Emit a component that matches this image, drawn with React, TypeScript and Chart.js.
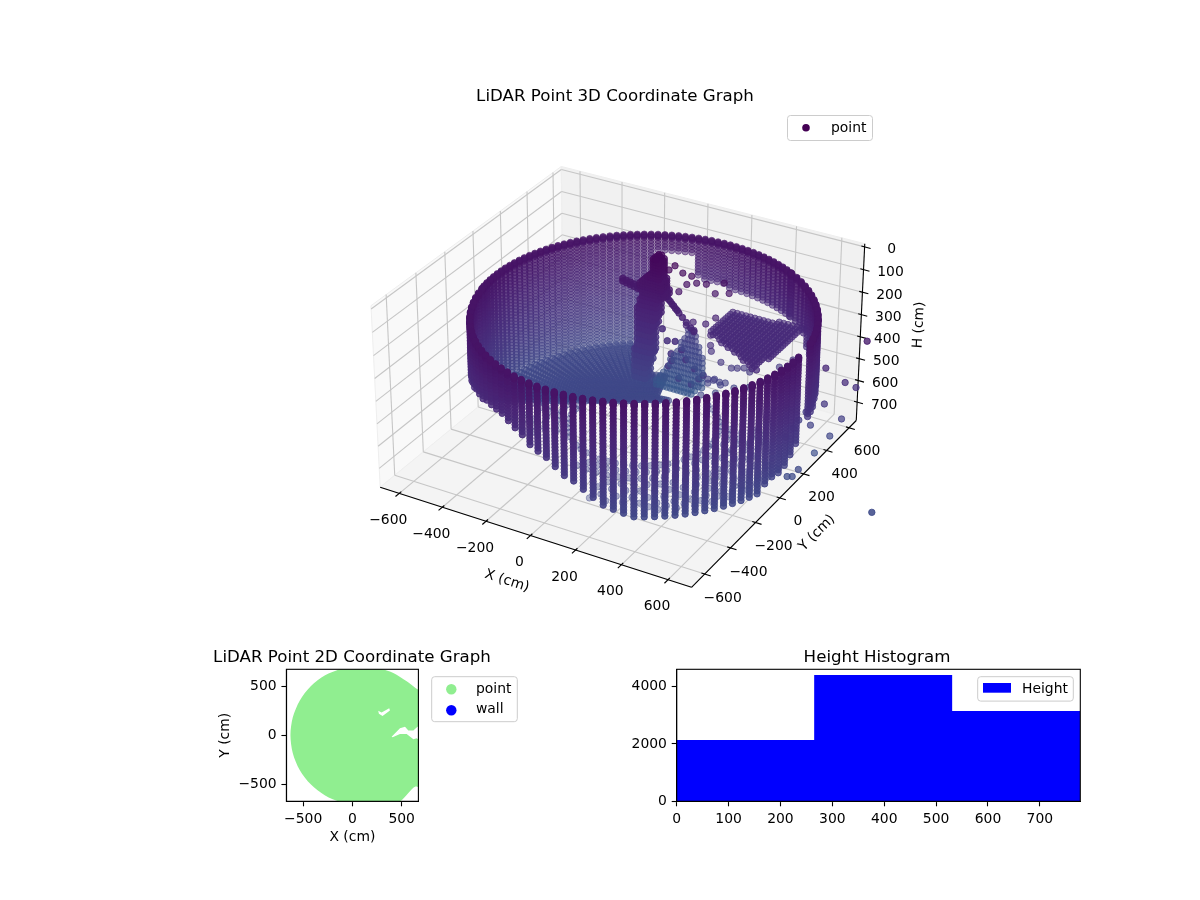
import { useEffect, useRef } from "react"
import { Chart, registerables } from "chart.js"

Chart.register(...registerables)
Chart.defaults.font.family = "'DejaVu Sans', sans-serif"
Chart.defaults.color = "#000"

// ---- axis ranges and ticks
const xLimits = [-690, 700]
const yLimits = [-700, 665]
const hLimits = [-14, 786]
const xTicks3d = [-600, -400, -200, 0, 200, 400, 600]
const yTicks3d = [-600, -400, -200, 0, 200, 400, 600]
const hTicks3d = [0, 100, 200, 300, 400, 500, 600, 700]
const ticks2d = [-500, 0, 500]
const histXTicks = [0, 100, 200, 300, 400, 500, 600, 700]
const histYTicks = [0, 2000, 4000]

// ---- room wall, one column per azimuth (deg); wallBottom is the lowest H seen, 0 = no return
const wallCenter = [75, 25]
const wallRadius = 672
const wallAzimuth = [
  0, 3.3, 6.6, 9.9, 13.2, 16.5, 19.8, 23.1, 26.4, 29.7,
  33, 36.3, 39.6, 42.9, 46.2, 49.5, 52.8, 56.1, 59.4,
  60, 62.4, 64.8, 67.2, 69.6, 72, 74.4, 76.8, 79.2, 81.6, 84, 86.4, 88.8,
  91.2, 93.6, 96, 98.4, 100.8,
  103.2, 105.6, 108, 110.4, 112.8, 115.2,
  117.6, 120, 122.4, 124.8, 127.2, 129.6, 132, 134.4, 136.8, 139.2, 141.6, 144, 146.4, 148.8, 151.2, 153.6,
  156, 158.4, 160.8, 163.2, 165.6, 168, 170.4, 172.8, 175.2, 177.6, 180, 182.4, 184.8, 187.2, 189.6,
  191.4, 194.7,
  198, 201.3, 204.6, 207.9, 211.2, 214.5, 217.8, 221.1, 224.4, 227.7,
  231, 234.3, 237.6, 240.9, 244.2, 247.5, 250.8, 254.1, 257.4, 260.7,
  264, 267.3, 270.6, 273.9, 277.2, 280.5, 283.8, 287.1, 290.4, 293.7,
  297, 300.3, 303.6, 306.9, 310.2, 313.5, 316.8, 320.1, 323.4, 326.7,
  330, 333.3, 336.6, 339.9, 343.2, 346.5, 349.8, 353.1, 356.4,
]
const wallBottom = [
  548, 0, 0, 488, 488, 488, 478, 478, 468, 468,
  458, 458, 448, 438, 418, 378, 368, 363, 363,
  363, 363, 363, 363, 363, 363, 363, 363, 363, 363, 363, 363, 358,
  345, 345, 345, 345, 340,
  233, 233, 233, 233, 233, 233,
  658, 658, 658, 658, 658, 658, 658, 658, 658, 658, 658, 658, 658, 658, 658, 658,
  658, 658, 658, 658, 658, 658, 658, 658, 658, 658, 658, 658, 658, 658, 658,
  618, 558,
  508, 468, 418, 418, 418, 413, 408, 398, 388, 383,
  378, 373, 368, 368, 368, 368, 378, 398, 413, 428,
  443, 468, 493, 518, 538, 563, 593, 618, 633, 648,
  658, 663, 663, 663, 663, 663, 663, 663, 663, 663,
  663, 663, 663, 663, 633, 623, 613, 598, 573,
]
const wallRings = [
  162, 165, 168, 172, 176, 190, 204, 218, 232, 246, 260, 274, 288, 302, 316, 330, 344, 358, 372, 386, 400, 414,
  428, 442, 456, 470, 484, 498, 512, 526, 540, 554, 568, 582, 596, 610, 624, 638, 652, 666,
]

// ---- floor rings; past floorNearLimit (view depth) only thin returns remain
const floorHeight = 660
const floorNearLimit = 190
const floorAzimuth = [
  0, 2.5, 5, 7.5, 10, 12.5, 15, 17.5, 20, 22.5, 25, 27.5, 30, 32.5, 35, 37.5, 40, 42.5, 45, 47.5, 50, 52.5, 55, 57.5,
  60, 62.5, 65, 67.5, 70, 72.5, 75, 77.5, 80, 82.5, 85, 87.5, 90, 92.5, 95, 97.5, 100, 102.5, 105, 107.5, 110, 112.5, 115, 117.5,
  120, 122.5, 125, 127.5, 130, 132.5, 135, 137.5, 140, 142.5, 145, 147.5, 150, 152.5, 155, 157.5, 160, 162.5, 165, 167.5, 170, 172.5, 175, 177.5,
  180, 182.5, 185, 187.5, 190, 192.5, 195, 197.5, 200, 202.5, 205, 207.5, 210, 212.5, 215, 217.5, 220, 222.5, 225, 227.5, 230, 232.5, 235, 237.5,
  240, 242.5, 245, 247.5, 250, 252.5, 255, 257.5, 260, 262.5, 265, 267.5, 270, 272.5, 275, 277.5, 280, 282.5, 285, 287.5, 290, 292.5, 295, 297.5,
  300, 302.5, 305, 307.5, 310, 312.5, 315, 317.5, 320, 322.5, 325, 327.5, 330, 332.5, 335, 337.5, 340, 342.5, 345, 347.5, 350, 352.5, 355, 357.5,
]
const floorRadii = [
  188, 202, 216, 230, 244, 258, 272, 286, 300, 314, 328, 342, 356, 370, 384, 398, 412, 426, 440, 454, 468, 482, 496, 510, 524, 538,
  552, 566, 580, 594, 608, 622, 636, 650, 660,
]
const floorSectorEnd = [25, 60, 105, 118, 190, 215, 255, 275, 300, 360]
const floorSectorReach = [500, 300, 220, 400, 660, 500, 340, 430, 570, 620]
const sparseRadiiEven = [300, 390, 480, 565, 612]
const sparseRadiiOdd = [345, 435, 525, 590]

// ---- flat deck by the back-right wall
const deckHeight = 368
const deckColumns = [190, 210, 230, 250, 270, 290, 310, 330, 350, 370, 390, 410, 430, 450, 470, 490, 510]
const deckRowY = [560, 540, 520, 500, 480, 460, 440, 420, 400, 380, 360, 340, 320, 300, 280, 260, 240, 220, 200, 180]
const deckRowFrom = [385, 185, 185, 185, 185, 185, 185, 185, 185, 185, 185, 197, 232, 267, 302, 337, 372, 407, 442, 470]
const deckRowTo = [510, 508, 507, 505, 504, 503, 502, 500, 499, 497, 496, 495, 493, 492, 490, 489, 488, 487, 486, 490]

// ---- cone shaped return beside the figure
const coneY = 300
const coneColumns = [-40, -24, -8, 8, 24, 40, 56, 72, 88, 104, 120, 136, 152, 168, 184, 200]
const coneH = [350, 372, 395, 417, 440, 462, 485, 507, 530, 552, 575, 597, 620, 640]
const coneFrom = [118, 105, 98, 88, 78, 66, 55, 40, 25, 10, -3, -20, -35, -30]
const coneTo = [140, 155, 165, 172, 180, 185, 189, 192, 194, 196, 198, 185, 167, 150]

// ---- standing figure
const figureLayers = [275, 290, 305, 320]
const figureColumns = [-124, -112, -100, -88, -76, -64, -52, -40, -28, -16, -4, 8, 20]
const figureH = [64, 76, 88, 100, 112, 124, 136, 148, 160, 172, 184, 196, 208, 223, 238, 258, 278, 298, 318, 338, 363, 388, 413, 438, 463, 488, 513, 538, 563, 588, 613]
const figureFrom = [-30, -33, -33, -33, -33, -36, -40, -55, -70, -85, -90, -90, -88, -85, -85, -90, -95, -100, -100, -102, -105, -108, -108, -108, -110, -112, -115, -115, -118, -120, -120]
const figureTo = [-5, 0, 3, 3, 3, 0, 0, 5, 10, 15, 15, 18, 20, 20, 5, -5, -8, -12, -15, -20, -25, -30, -35, -40, -40, -40, -45, -50, -55, -60, -60]

// ---- loose returns; the first darkCount belong to the figure
const darkCount = 40
const strayX = [
  -182, -165, -147, -130, -112, -93, -182, -165, -147, -130, -112, -93,
  -4, 12, 28, 44, 60, 76, 92, 110, 130, 145, 20, 36, 52, 68,
  -34, 42, 46, 24, 1, 78, 136, 190, 60, 90, 30, 110, 150, 170,
  218, 265, 154, 187, 248, 121, 137, 107, 80, 60, 94, 221, 187, 144, 121, 147, 205, 205, 208, 242, 278, 299, 322, 342,
  218, 198, 242, 289, 342, 383, 444, 490, 558, 198, 221, 238, 258, 225, 174,
  869, 735, 802, 839, 735, 795, 758, 708, 691, 634, 610, 651, 674, 691, 744, 724, 707, 1120,
]
const strayY = [
  300, 300, 300, 300, 300, 300, 300, 300, 300, 300, 300, 300,
  300, 300, 300, 300, 300, 300, 300, 300, 300, 300, 300, 300, 300, 300,
  300, 300, 300, 300, 300, 300, 300, 300, 300, 300, 300, 300, 300, 300,
  336, 364, 300, 319, 354, 280, 290, 272, 257, 245, 265, 338, 319, 294, 280, 296, 329, 329, 331, 350, 372, 383, 397, 408,
  336, 325, 350, 377, 408, 432, 467, 494, 533, 325, 338, 348, 360, 340, 312,
  366, 289, 327, 349, 289, 324, 302, 273, 263, 230, 217, 240, 254, 263, 63, 52, 42, -60,
]
const strayH = [
  201, 205, 208, 212, 216, 220, 213, 217, 220, 224, 228, 232,
  206, 223, 240, 256, 272, 288, 303, 321, 340, 353, 230, 246, 262, 278,
  489, 481, 512, 427, 379, 584, 594, 538, 420, 450, 540, 490, 520, 560,
  180, 180, 134, 139, 134, 139, 103, 89, 57, 75, 171, 289, 316, 307, 321, 344, 366, 412, 439, 489, 516, 516, 516, 534,
  571, 584, 593, 607, 603, 580, 512, 480, 580, 566, 566, 580, 584, 630, 639,
  227, 345, 409, 432, 505, 573, 650, 727, 600, 614, 655, 577, 541, 495, 678, 710, 710, 685,
]

// ---- 2D footprint
const footprintX = [75, 200, 296, 415, 551, 640, 720, 720, 640, 568, 483, 360, 220, 75, -107, -277, -423, -535, -605, -629, -605, -535, -423, -277, -107]
const footprintY = [704, 692, 673, 633, 548, 480, 420, -540, -520, -585, -670, -690, -700, -704, -680, -610, -498, -352, -182, 0, 182, 352, 498, 610, 680]
const gapAX = [262, 296, 374, 381, 306, 269]
const gapAY = [248, 231, 275, 252, 197, 218]
const gapBX = [398, 483, 534, 568, 619, 660, 720, 720, 653, 619, 551, 483, 408]
const gapBY = [-14, 71, 88, 48, 48, 88, 88, -70, -31, -41, 14, 14, -20]

// ---- histogram
const histEdges = [0, 265, 531, 778]
const histCounts = [2140, 4407, 3151]

// ---- view of the 3D box: elev 30, azim -60, camera distance 10
const boxSide = 1.243
const boxHeight = 0.73
const camDist = 10
const viewRight = [0.866, 0.5, 0]
const viewUp = [-0.25, 0.433, 0.866]
const viewNormal = [0.433, -0.75, 0.5]

type P3 = { u: number; v: number; d: number }

function project(x: number, y: number, h: number): P3 {
  const bx = ((x - xLimits[0]) / (xLimits[1] - xLimits[0]) - 0.5) * boxSide
  const by = ((y - yLimits[0]) / (yLimits[1] - yLimits[0]) - 0.5) * boxSide
  const bz = (0.5 - (h - hLimits[0]) / (hLimits[1] - hLimits[0])) * boxHeight
  const X = viewRight[0] * bx + viewRight[1] * by
  const Y = viewUp[0] * bx + viewUp[1] * by + viewUp[2] * bz
  const d = viewNormal[0] * bx + viewNormal[1] * by + viewNormal[2] * bz
  const w = camDist - d
  return { u: X / w, v: Y / w, d }
}

const viridis = [
  [68, 1, 84], [71, 19, 101], [72, 36, 117], [70, 52, 128], [65, 68, 135], [59, 82, 139], [53, 95, 141],
]

function heightColor(h: number, alpha: number) {
  const t = Math.max(0, Math.min(0.29, h / 3100)) / 0.05
  const i = Math.floor(t)
  const f = t - i
  const a = viridis[i]
  const b = viridis[i + 1]
  const c = [0, 1, 2].map((k) => Math.round(a[k] + (b[k] - a[k]) * f))
  return `rgba(${c[0]},${c[1]},${c[2]},${alpha.toFixed(3)})`
}

function collectCloud() {
  // x, y, H, forced alpha (0 = depth shade), H used for the colour
  const raw: number[][] = []
  const polar = (az: number, r: number) => {
    const a = (az * Math.PI) / 180
    return [wallCenter[0] + r * Math.cos(a), wallCenter[1] + r * Math.sin(a)]
  }
  const viewDepth = (az: number, r: number) => r * Math.cos(((az - 120) * Math.PI) / 180)
  const reachAt = (az: number) => floorSectorReach[floorSectorEnd.findIndex((e) => az <= e)]

  wallAzimuth.forEach((az, i) => {
    wallRings.forEach((h) => {
      if (h <= wallBottom[i]) {
        const p = polar(az, wallRadius)
        raw.push([p[0], p[1], h, 0, h])
      }
    })
    const sparse = i % 2 ? sparseRadiiOdd : sparseRadiiEven
    sparse.forEach((r) => {
      if (r <= reachAt(az) && viewDepth(az, r) < floorNearLimit) {
        const p = polar(az + 1.6, r)
        raw.push([p[0], p[1], floorHeight, 0.38, floorHeight])
      }
    })
  })
  floorAzimuth.forEach((az) => {
    floorRadii.forEach((r) => {
      if (r <= reachAt(az) && viewDepth(az, r) >= floorNearLimit) {
        const p = polar(az, r)
        raw.push([p[0], p[1], floorHeight, 0, floorHeight])
      }
    })
  })
  deckRowY.forEach((y, i) => {
    deckColumns.forEach((x) => {
      if (x >= deckRowFrom[i] && x <= deckRowTo[i]) raw.push([x, y, deckHeight, 0, deckHeight])
    })
  })
  coneH.forEach((h, i) => {
    coneColumns.forEach((x) => {
      if (x >= coneFrom[i] && x <= coneTo[i]) raw.push([x, coneY, h, 0.6, h + 200])
    })
  })
  figureLayers.forEach((y) => {
    figureH.forEach((h, i) => {
      figureColumns.forEach((x) => {
        if (x >= figureFrom[i] && x <= figureTo[i]) raw.push([x, y, h, 0.8, h])
      })
    })
  })
  strayX.forEach((x, i) => raw.push([x, strayY[i], strayH[i], i < darkCount ? 0.85 : 0, strayH[i]]))

  const pts = raw.map((p) => ({ ...project(p[0], p[1], p[2]), forced: p[3], colorH: p[4] }))
  pts.sort((a, b) => a.d - b.d)
  const dMin = pts[0].d
  const dMax = pts[pts.length - 1].d
  return pts.map((p) => ({
    x: p.u,
    y: p.v,
    color: heightColor(p.colorH, p.forced || 0.42 + (0.58 * (p.d - dMin)) / (dMax - dMin)),
  }))
}

const minusText = (v: number) => String(v).replace("-", "\u2212")

function drawLegendBox(ctx: CanvasRenderingContext2D, x: number, y: number, w: number, h: number) {
  ctx.save()
  ctx.beginPath()
  ctx.roundRect(x, y, w, h, 3)
  ctx.fillStyle = "rgba(255,255,255,0.8)"
  ctx.fill()
  ctx.strokeStyle = "#cccccc"
  ctx.lineWidth = 1
  ctx.stroke()
  ctx.restore()
}

function drawText(ctx: CanvasRenderingContext2D, text: string, x: number, y: number, size: number, align: CanvasTextAlign = "center", rot = 0) {
  ctx.save()
  ctx.translate(x, y)
  ctx.rotate((rot * Math.PI) / 180)
  ctx.font = `${size}px 'DejaVu Sans'`
  ctx.fillStyle = "#000"
  ctx.textAlign = align
  ctx.textBaseline = "middle"
  ctx.fillText(text, 0, 0)
  ctx.restore()
}

const scenePlugin = {
  id: "scene3d",
  beforeDatasetsDraw(chart: any) {
    const ctx: CanvasRenderingContext2D = chart.ctx
    const sx = chart.scales.x
    const sy = chart.scales.y
    const at = (x: number, y: number, h: number) => {
      const p = project(x, y, h)
      return [sx.getPixelForValue(p.u), sy.getPixelForValue(p.v)]
    }
    const [x0, x1] = xLimits
    const [y0, y1] = yLimits
    const [hTop, hBase] = hLimits

    const poly = (pts: number[][], fill: string) => {
      ctx.beginPath()
      pts.forEach((p, i) => (i ? ctx.lineTo(p[0], p[1]) : ctx.moveTo(p[0], p[1])))
      ctx.closePath()
      ctx.fillStyle = fill
      ctx.fill()
      ctx.strokeStyle = "#eeeeee"
      ctx.lineWidth = 1
      ctx.stroke()
    }
    const seg = (a: number[], b: number[], color: string, lw: number) => {
      ctx.beginPath()
      ctx.moveTo(a[0], a[1])
      ctx.lineTo(b[0], b[1])
      ctx.strokeStyle = color
      ctx.lineWidth = lw
      ctx.stroke()
    }

    poly([at(x0, y0, hTop), at(x0, y1, hTop), at(x0, y1, hBase), at(x0, y0, hBase)], "#f9f9f9")
    poly([at(x0, y1, hTop), at(x1, y1, hTop), at(x1, y1, hBase), at(x0, y1, hBase)], "#f1f1f1")
    poly([at(x0, y0, hBase), at(x0, y1, hBase), at(x1, y1, hBase), at(x1, y0, hBase)], "#f4f4f4")

    const grid = "#c6c6c6"
    xTicks3d.forEach((t) => {
      seg(at(t, y0, hBase), at(t, y1, hBase), grid, 1.1)
      seg(at(t, y1, hBase), at(t, y1, hTop), grid, 1.1)
    })
    yTicks3d.forEach((t) => {
      seg(at(x1, t, hBase), at(x0, t, hBase), grid, 1.1)
      seg(at(x0, t, hBase), at(x0, t, hTop), grid, 1.1)
    })
    hTicks3d.forEach((t) => {
      seg(at(x0, y0, t), at(x0, y1, t), grid, 1.1)
      seg(at(x0, y1, t), at(x1, y1, t), grid, 1.1)
    })

    seg(at(x0, y0, hBase), at(x1, y0, hBase), "#000", 1.1)
    seg(at(x1, y0, hBase), at(x1, y1, hBase), "#000", 1.1)
    seg(at(x1, y1, hBase), at(x1, y1, hTop), "#000", 1.1)

    xTicks3d.forEach((t) => {
      seg(at(t, y0 - 26, hBase), at(t, y0 + 14, hBase), "#000", 1.1)
      const p = at(t, y0, hBase)
      drawText(ctx, minusText(t), p[0] - 11, p[1] + 27, 13.9)
    })
    yTicks3d.forEach((t) => {
      seg(at(x1 + 26, t, hBase), at(x1 - 14, t, hBase), "#000", 1.1)
      const p = at(x1, t, hBase)
      drawText(ctx, minusText(t), p[0] + 18, p[1] + 24, 13.9)
    })
    hTicks3d.forEach((t) => {
      seg(at(x1 + 26, y1, t), at(x1 - 14, y1, t), "#000", 1.1)
      const p = at(x1, y1, t)
      drawText(ctx, minusText(t), p[0] + 27, p[1] + 3, 13.9)
    })
    drawText(ctx, "X (cm)", 507, 581, 13.9, "center", 17.7)
    drawText(ctx, "Y (cm)", 817, 533, 13.9, "center", -45)
    drawText(ctx, "H (cm)", 919, 325, 13.9, "center", -87)
    drawText(ctx, "LiDAR Point 3D Coordinate Graph", 615, 96.5, 16.67)
  },
  afterDatasetsDraw(chart: any) {
    const ctx: CanvasRenderingContext2D = chart.ctx
    drawLegendBox(ctx, 787.5, 115.5, 85, 25)
    ctx.beginPath()
    ctx.arc(806, 127.7, 3.8, 0, Math.PI * 2)
    ctx.fillStyle = "#440154"
    ctx.fill()
    drawText(ctx, "point", 831, 128, 13.9, "left")
  },
}

const framePlugin = {
  id: "frame",
  afterDatasetsDraw(chart: any, _args: any, opts: any) {
    const ctx: CanvasRenderingContext2D = chart.ctx
    const a = chart.chartArea
    ctx.save()
    ctx.strokeStyle = "#000"
    ctx.lineWidth = 1.1
    ctx.strokeRect(a.left, a.top, a.right - a.left, a.bottom - a.top)
    ctx.restore()
    drawText(ctx, opts.title, opts.titleX, 17.5, 16.67)
    if (opts.kind === "points") {
      drawLegendBox(ctx, 231.7, 36.7, 85.6, 45)
      ctx.fillStyle = "#90ee90"
      ctx.beginPath()
      ctx.arc(251.3, 49.3, 5.2, 0, Math.PI * 2)
      ctx.fill()
      ctx.fillStyle = "#0000ff"
      ctx.beginPath()
      ctx.arc(251.3, 70.3, 5.2, 0, Math.PI * 2)
      ctx.fill()
      drawText(ctx, "point", 276, 49, 13.9, "left")
      drawText(ctx, "wall", 276, 69.5, 13.9, "left")
    } else {
      drawLegendBox(ctx, 357.7, 36.7, 95.6, 24.4)
      ctx.fillStyle = "#0000ff"
      ctx.fillRect(363, 43, 28, 9.7)
      drawText(ctx, "Height", 402, 49, 13.9, "left")
    }
  },
}

function axisStyle(values: number[], min: number, max: number, size: number, horizontal: boolean, title?: string, titlePad?: any) {
  return {
    type: "linear",
    min,
    max,
    afterBuildTicks: (s: any) => {
      s.ticks = values.map((value) => ({ value }))
    },
    afterFit: (s: any) => {
      if (horizontal) s.height = size
      else s.width = size
    },
    grid: { drawOnChartArea: false, tickLength: 5, tickColor: "#000", tickWidth: 1.1 },
    border: { display: true, color: "#000", width: 1.1 },
    ticks: {
      autoSkip: false,
      maxRotation: 0,
      padding: 4.8,
      color: "#000",
      font: { size: 13.9 },
      callback: (v: number) => minusText(v),
    },
    title: title ? { display: true, text: title, color: "#000", font: { size: 13.9 }, padding: titlePad } : { display: false },
  }
}

export default function App() {
  const sceneRef = useRef<HTMLCanvasElement>(null)
  const mapRef = useRef<HTMLCanvasElement>(null)
  const histRef = useRef<HTMLCanvasElement>(null)

  useEffect(() => {
    const cloud = collectCloud()

    const scene = new Chart(sceneRef.current as HTMLCanvasElement, {
      type: "scatter",
      data: {
        datasets: [
          {
            label: "point",
            data: cloud.map((p) => ({ x: p.x, y: p.y })),
            pointRadius: 3.2,
            pointBorderWidth: 1,
            pointBackgroundColor: cloud.map((p) => p.color),
            pointBorderColor: cloud.map((p) => p.color),
            clip: false,
          },
        ],
      },
      options: {
        responsive: false,
        animation: false,
        events: [],
        layout: { padding: 0 },
        plugins: { legend: { display: false }, tooltip: { enabled: false } },
        scales: {
          x: { type: "linear", display: false, min: -0.21647, max: 0.20048 },
          y: { type: "linear", display: false, min: -0.09521, max: 0.12717 },
        },
      },
      plugins: [scenePlugin],
    } as any)

    const toPairs = (xs: number[], ys: number[]) => xs.map((x, i) => ({ x, y: ys[i] }))
    const map = new Chart(mapRef.current as HTMLCanvasElement, {
      type: "scatter",
      data: {
        datasets: [
          { label: "gap a", data: toPairs(gapAX, gapAY), showLine: true, fill: "shape", borderWidth: 0, backgroundColor: "#fff", pointRadius: 0 },
          { label: "gap b", data: toPairs(gapBX, gapBY), showLine: true, fill: "shape", borderWidth: 0, backgroundColor: "#fff", pointRadius: 0 },
          { label: "point", data: toPairs(footprintX, footprintY), showLine: true, fill: "shape", borderWidth: 0, backgroundColor: "#90ee90", pointRadius: 0, tension: 0.3 },
        ],
      },
      options: {
        responsive: false,
        animation: false,
        events: [],
        layout: { padding: { top: 29.3, right: 111.6 } },
        plugins: {
          legend: { display: false },
          tooltip: { enabled: false },
          frame: { title: "LiDAR Point 2D Coordinate Graph", titleX: 152, kind: "points" },
        },
        scales: {
          x: axisStyle(ticks2d, -670, 670, 48.7, true, "X (cm)", { top: 0, bottom: 4.6 }),
          y: axisStyle(ticks2d, -670, 670, 86.4, false, "Y (cm)", { top: 16.6, bottom: 0 }),
        },
      },
      plugins: [framePlugin],
    } as any)

    const histOutline = [{ x: histEdges[0], y: 0 }]
    histCounts.forEach((c, i) => {
      histOutline.push({ x: histEdges[i], y: c }, { x: histEdges[i + 1], y: c })
    })
    histOutline.push({ x: histEdges[histEdges.length - 1], y: 0 })
    const hist = new Chart(histRef.current as HTMLCanvasElement, {
      type: "scatter",
      data: {
        datasets: [
          { label: "Height", data: histOutline, showLine: true, fill: "origin", borderWidth: 0, backgroundColor: "#0000ff", pointRadius: 0 },
        ],
      },
      options: {
        responsive: false,
        animation: false,
        events: [],
        layout: { padding: { top: 29.3, right: 19.7 } },
        plugins: {
          legend: { display: false },
          tooltip: { enabled: false },
          frame: { title: "Height Histogram", titleX: 257, kind: "hist" },
        },
        scales: {
          x: axisStyle(histXTicks, 0, 778, 48.7, true),
          y: axisStyle(histYTicks, 0, 4605, 56.7, false),
        },
      },
      plugins: [framePlugin],
    } as any)

    return () => {
      scene.destroy()
      map.destroy()
      hist.destroy()
    }
  }, [])

  return (
    <div style={{ position: "fixed", left: 0, top: 0, width: 1200, height: 900, background: "#fff" }}>
      <canvas ref={sceneRef} width={1200} height={640} style={{ position: "absolute", left: 0, top: 0 }} />
      <canvas ref={mapRef} width={330} height={210} style={{ position: "absolute", left: 200, top: 640 }} />
      <canvas ref={histRef} width={480} height={210} style={{ position: "absolute", left: 620, top: 640 }} />
    </div>
  )
}
